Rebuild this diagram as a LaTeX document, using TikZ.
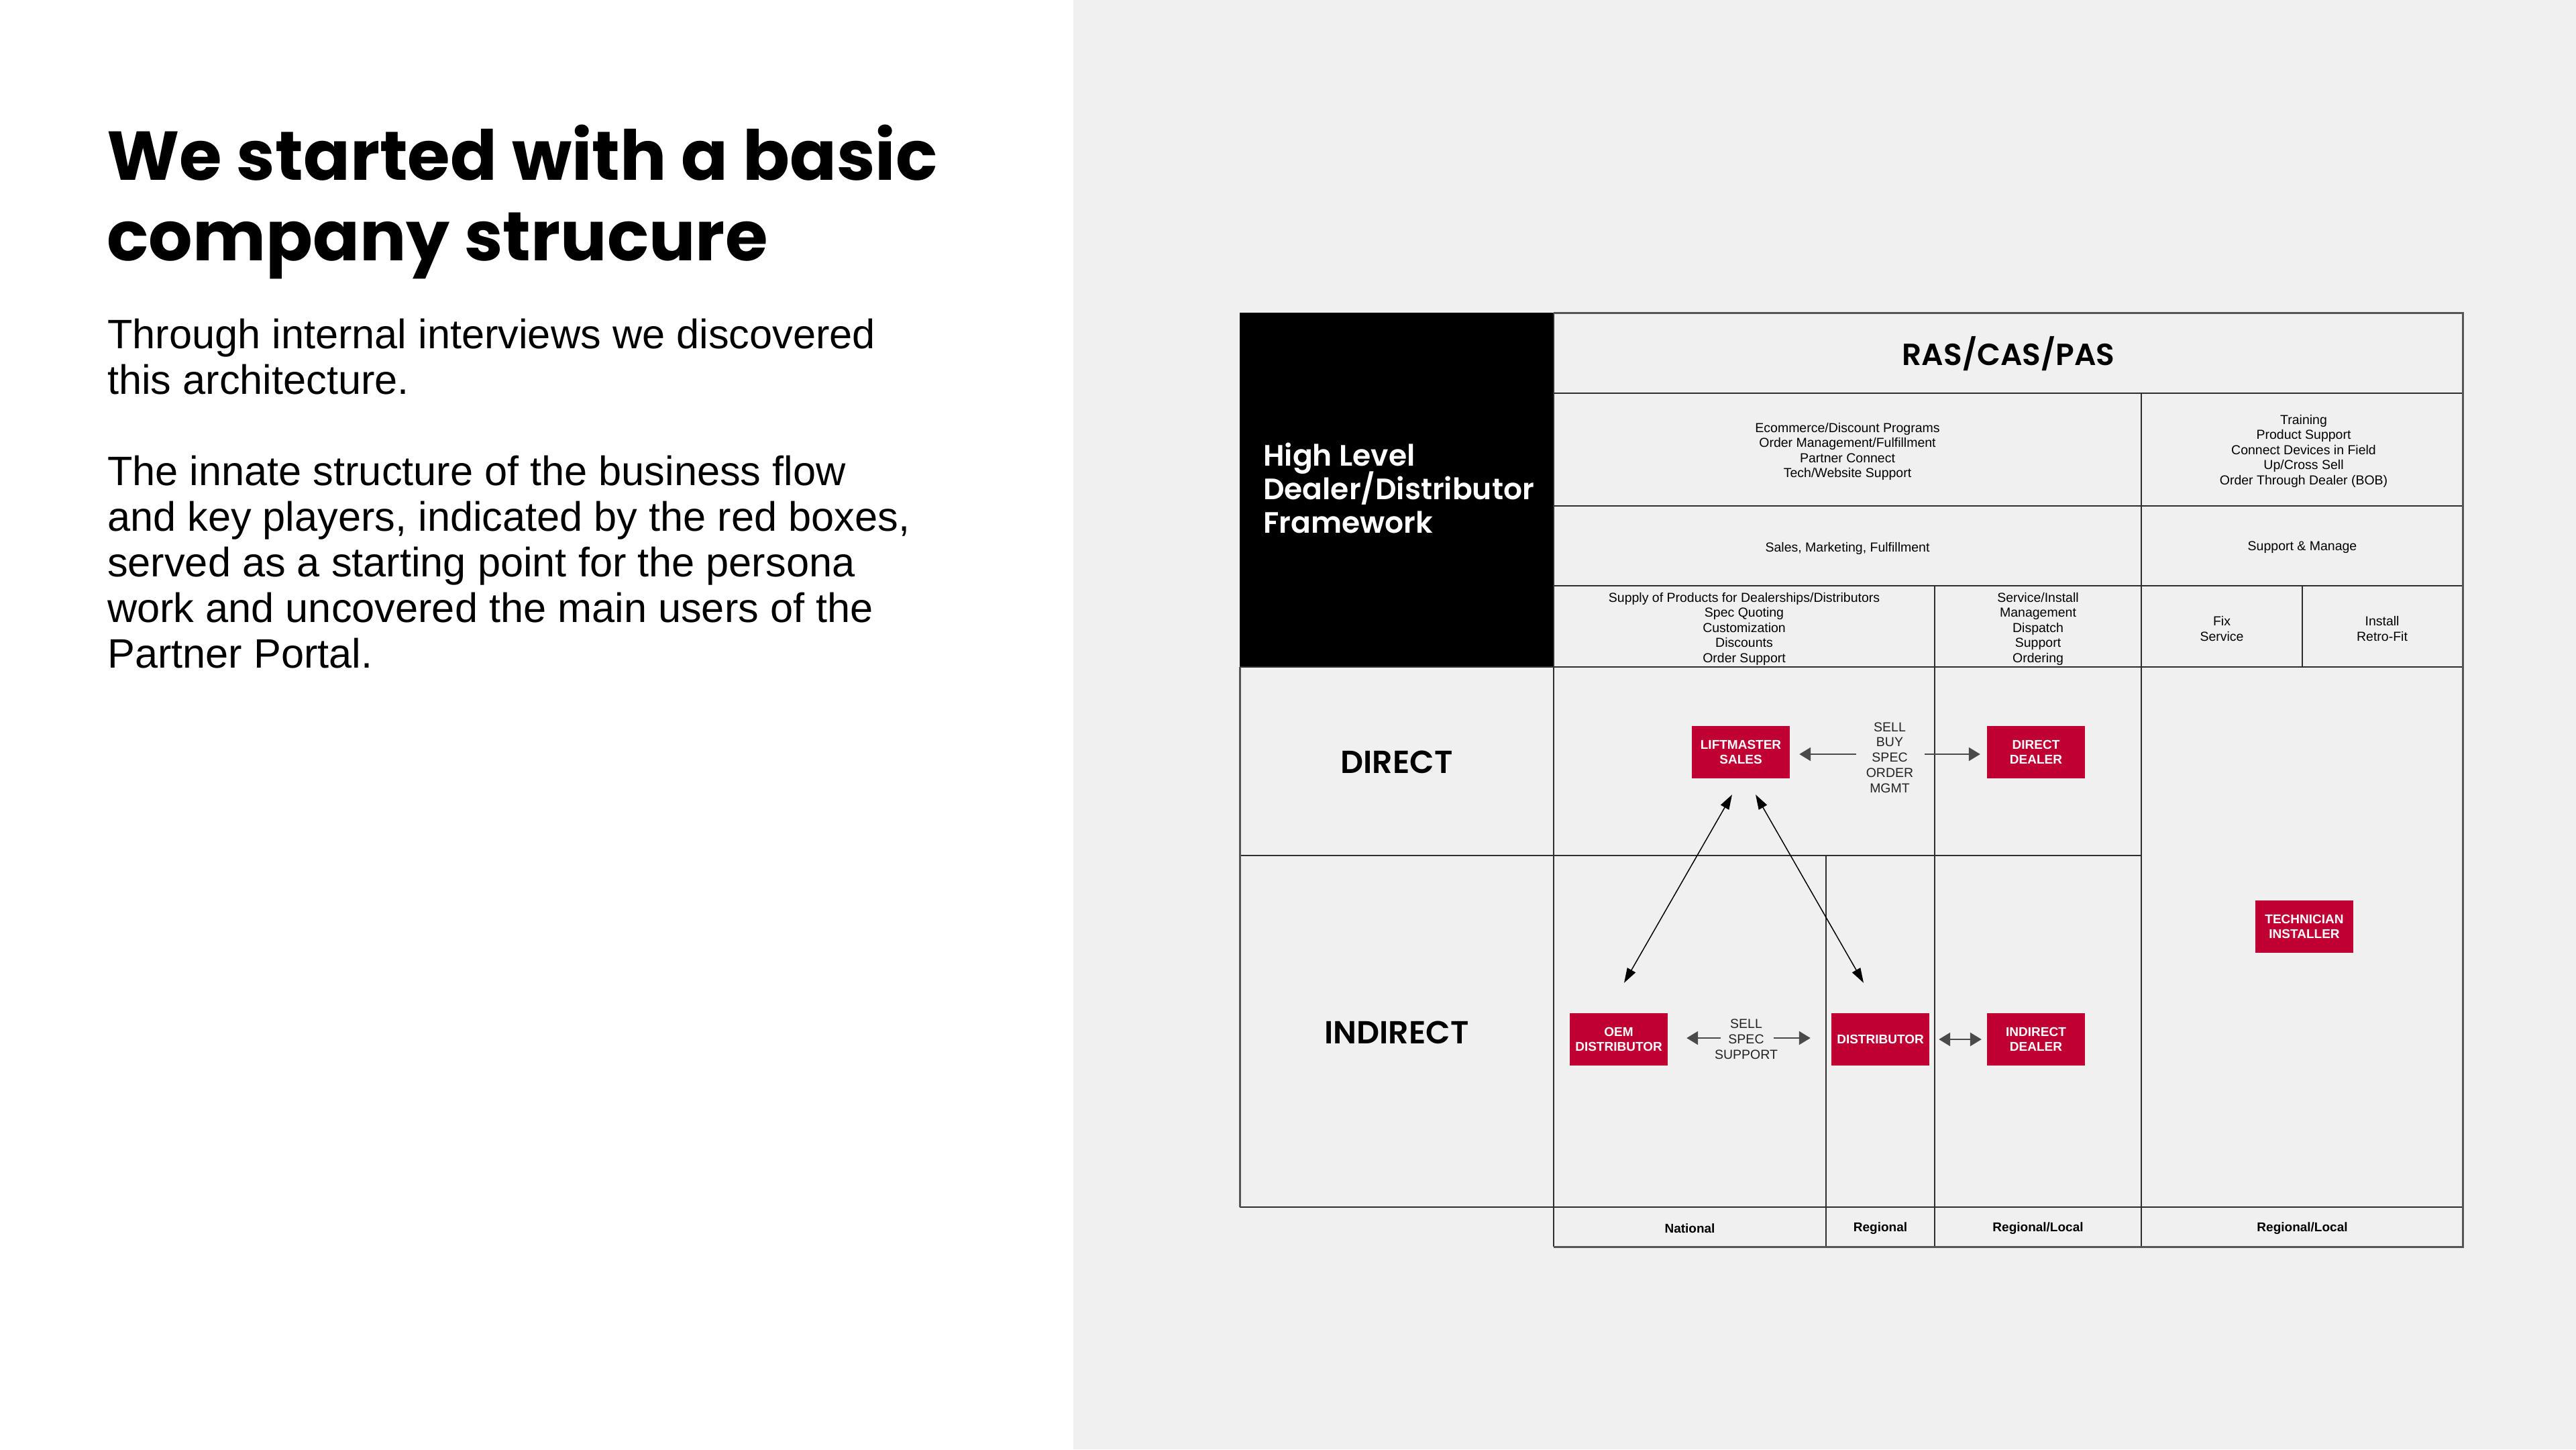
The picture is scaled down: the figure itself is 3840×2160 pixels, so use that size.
\documentclass[tikz,border=0pt]{standalone}
\usepackage{fontspec}
\setmainfont{Liberation Sans}
\newfontfamily\popbold{Poppins Bold}
\newfontfamily\popsemi{Poppins SemiBold}
\usetikzlibrary{arrows.meta,calc}
\definecolor{panel}{HTML}{F0F0F0}
\definecolor{lmred}{HTML}{C00032}
\definecolor{gridc}{HTML}{2E2E2E}
\definecolor{outerc}{HTML}{555555}
\definecolor{arrowc}{HTML}{4A4A4A}
\definecolor{labelc}{HTML}{222222}
\tikzset{
  htip/.tip={Triangle[length=17pt,width=20pt]},
  dtip/.tip={Triangle[length=22pt,width=14pt]},
  grid/.style={draw=gridc,line width=2.5pt},
  thingrid/.style={draw=gridc,line width=1.5pt},
  outer/.style={draw=outerc,line width=3pt},
  cell/.style={align=center,inner sep=0pt,text=black,font=\fontsize{19.5}{22.5}\selectfont},
  foot/.style={align=center,inner sep=0pt,text=black,font=\bfseries\fontsize{19}{22.5}\selectfont},
  redbox/.style={fill=lmred,text=white,align=center,inner sep=0pt,minimum width=146pt,minimum height=78pt,font=\bfseries\fontsize{19}{22.5}\selectfont},
  flowlabel/.style={align=center,inner sep=0pt,text=labelc,font=\fontsize{19.5}{22.8}\selectfont},
  harr/.style={htip-htip,draw=arrowc,line width=2.5pt},
  sarr/.style={-htip,draw=arrowc,line width=2.5pt},
  darr/.style={dtip-dtip,draw=black,line width=1.5pt},
  title/.style={anchor=base west,inner sep=0pt,text=black,font=\popbold\fontsize{103}{120}\selectfont},
  body/.style={anchor=base west,inner sep=0pt,text=black,font=\fontsize{61.3}{68}\selectfont},
  hl/.style={anchor=base west,inner sep=0pt,text=white,font=\popsemi\fontsize{44}{50}\selectfont},
  rowhead/.style={inner sep=0pt,text=black,font=\popsemi\fontsize{47.5}{50}\selectfont}
}
\begin{document}
\begin{tikzpicture}[x=1pt,y=-1pt]
\useasboundingbox (0,0) rectangle (3840,2160);
\fill[white] (0,0) rectangle (1600,2160);
\fill[panel] (1600,0) rectangle (3840,2160);

% left text
\node[title] (t1) at (159,268) {We started with a basic};
\node[title] (t2) at (159,388) {company strucure};
\node[body] (p1a) at (160,519) {Through internal interviews we discovered};
\node[body] (p1b) at (160,587) {this architecture.};
\node[body] (p2a) at (160,723) {The innate structure of the business flow};
\node[body] (p2b) at (160,791) {and key players, indicated by the red boxes,};
\node[body] (p2c) at (160,859) {served as a starting point for the persona};
\node[body] (p2d) at (160,927) {work and uncovered the main users of the};
\node[body] (p2e) at (160,995) {Partner Portal.};

% table
\fill[black] (1848,466) rectangle (2316,994);
\draw[grid] (2316,586) -- (3671,586);
\draw[grid] (2316,754) -- (3671,754);
\draw[grid] (2316,873) -- (3671,873);
\draw[grid] (1848,994) -- (3671,994);
\draw[grid] (1848,1275) -- (3192,1275);
\draw[grid] (1848,1799) -- (3671,1799);
\draw[grid] (2316,466) -- (2316,1858);
\draw[thingrid] (2722,1275) -- (2722,1858);
\draw[grid] (2884,873) -- (2884,1858);
\draw[grid] (3192,586) -- (3192,1858);
\draw[grid] (3432,873) -- (3432,994);
\draw[outer] (2316,466) -- (3671,466) -- (3671,1858) -- (2316,1858);
\draw[outer] (1848,994) -- (1848,1799);

% header texts
\node[hl] (hl1) at (1883,694) {High Level};
\node[hl] (hl2) at (1883,744) {Dealer/Distributor};
\node[hl] (hl3) at (1883,794) {Framework};
\node[inner sep=0pt,font=\popsemi\fontsize{45.5}{50}\selectfont] (ras) at (2994,527) {RAS/CAS/PAS};
\node[cell] (ecom) at (2754,673) {Ecommerce/Discount Programs\\Order Management/Fulfillment\\Partner Connect\\Tech/Website Support};
\node[cell] (train) at (3434,672) {Training\\Product Support\\Connect Devices in Field\\Up/Cross Sell\\Order Through Dealer (BOB)};
\node[cell] (smf) at (2754,817) {Sales, Marketing, Fulfillment};
\node[cell] (sm) at (3432,816) {Support \& Manage};
\node[cell] (supply) at (2600,937) {Supply of Products for Dealerships/Distributors\\Spec Quoting\\Customization\\Discounts\\Order Support};
\node[cell] (svc) at (3038,937) {Service/Install\\Management\\Dispatch\\Support\\Ordering};
\node[cell] (fix) at (3312,937) {Fix\\Service};
\node[cell] (inst) at (3551,937) {Install\\Retro-Fit};

% row heads
\node[rowhead] (direct) at (2082,1136) {DIRECT};
\node[rowhead] (indirect) at (2082,1539) {INDIRECT};

% footer
\node[foot] (nat) at (2519,1831) {National};
\node[foot] (reg) at (2803,1831) {Regional};
\node[foot] (rl1) at (3038,1831) {Regional/Local};
\node[foot] (rl2) at (3432,1831) {Regional/Local};

% red boxes
\node[redbox] (lm) at (2595,1121) {LIFTMASTER\\SALES};
\node[redbox] (dd) at (3035,1121) {DIRECT\\DEALER};
\node[redbox] (oem) at (2413,1549) {OEM\\DISTRIBUTOR};
\node[redbox] (dist) at (2803,1549) {DISTRIBUTOR};
\node[redbox] (idl) at (3035,1549) {INDIRECT\\DEALER};
\node[redbox] (tech) at (3435,1381) {TECHNICIAN\\INSTALLER};

% flow labels
\node[flowlabel] (sbl) at (2817,1129) {SELL\\BUY\\SPEC\\ORDER\\MGMT};
\node[flowlabel] (ssl) at (2603,1549) {SELL\\SPEC\\SUPPORT};

% connectors
\coordinate (a1) at ($(lm.east)+(99,3)$);
\coordinate (a2) at ($(dd.west)+(-93,3)$);
\draw[sarr,shorten >=14pt] (a1) -- (a1 -| lm.east);
\draw[sarr,shorten >=10pt] (a2) -- (a2 -| dd.west);
\coordinate (b1) at ($(ssl.center)+(-38,-2)$);
\coordinate (b2) at ($(ssl.center)+(41,-2)$);
\draw[sarr,shorten >=28pt] (b1) -- (b1 -| oem.east);
\draw[sarr,shorten >=31pt] (b2) -- (b2 -| dist.west);
\draw[harr,shorten <=14pt,shorten >=8pt] (dist.east) -- (idl.west);
\draw[darr] ($(lm.south)+(-13,24)$) -- ($(oem.north)+(8,-45)$);
\draw[darr] ($(lm.south)+(22,24)$) -- ($(dist.north)+(-25,-45)$);
\end{tikzpicture}
\end{document}
